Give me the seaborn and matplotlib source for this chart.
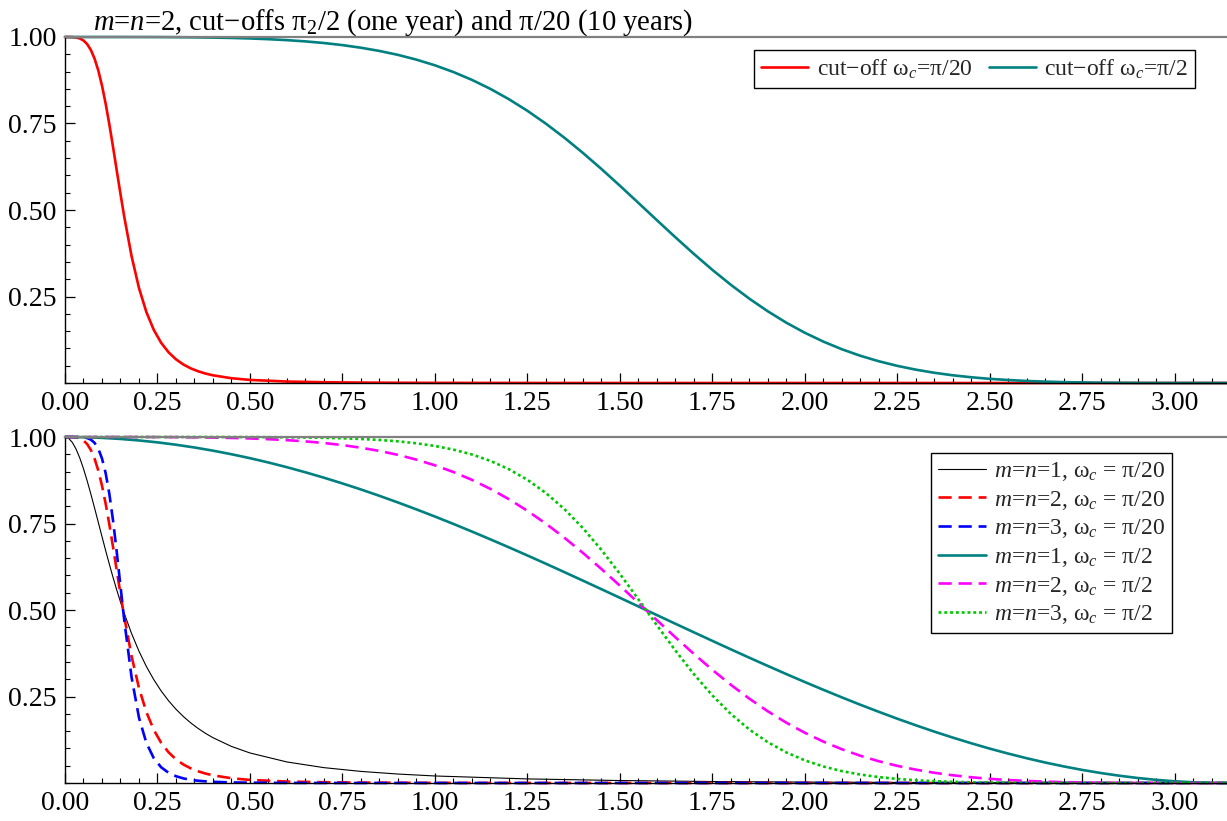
import numpy as np
import pandas as pd
import matplotlib
matplotlib.use("Agg")
import matplotlib.pyplot as plt
from matplotlib.ticker import MultipleLocator, FixedLocator
import seaborn as sns

# ---------------- data ----------------
# curves with cut-off pi/20
x_lo = [0.00, 0.01, 0.02, 0.03, 0.04, 0.05, 0.06, 0.07, 0.08, 0.09, 0.10, 0.11,
        0.12, 0.13, 0.14, 0.15, 0.16, 0.18, 0.20, 0.22, 0.24, 0.26, 0.28, 0.30,
        0.32, 0.34, 0.36, 0.38, 0.40, 0.45, 0.50, 0.60, 0.70, 0.80, 0.90, 1.00,
        1.25, 1.50, 1.75, 2.00, 2.50, 3.00, 3.1416]
g1_lo = [1.0000, 0.9960, 0.9841, 0.9649, 0.9393, 0.9083, 0.8731, 0.8348, 0.7945,
         0.7534, 0.7121, 0.6714, 0.6319, 0.5938, 0.5575, 0.5231, 0.4908, 0.4320,
         0.3809, 0.3368, 0.2988, 0.2660, 0.2377, 0.2133, 0.1921, 0.1737, 0.1576,
         0.1434, 0.1310, 0.1057, 0.0868, 0.0608, 0.0444, 0.0335, 0.0259, 0.0203,
         0.0118, 0.0071, 0.0043, 0.0026, 0.0007, 0.0000, 0.0000]
g2_lo = [1.0000, 1.0000, 0.9997, 0.9987, 0.9958, 0.9899, 0.9793, 0.9623, 0.9373,
         0.9032, 0.8595, 0.8068, 0.7466, 0.6812, 0.6135, 0.5462, 0.4815, 0.3665,
         0.2746, 0.2050, 0.1536, 0.1161, 0.0887, 0.0685, 0.0535, 0.0423, 0.0338,
         0.0273, 0.0222, 0.0138, 0.0089, 0.0042, 0.0022, 0.0012, 0.0007, 0.0004,
         0.0001, 0.0000, 0.0000, 0.0000, 0.0000, 0.0000, 0.0000]
g3_lo = [1.0000, 1.0000, 1.0000, 1.0000, 0.9997, 0.9990, 0.9969, 0.9923, 0.9830,
         0.9661, 0.9380, 0.8951, 0.8349, 0.7575, 0.6667, 0.5690, 0.4723, 0.3055,
         0.1889, 0.1158, 0.0718, 0.0454, 0.0295, 0.0196, 0.0133, 0.0092, 0.0065,
         0.0047, 0.0034, 0.0017, 0.0009, 0.0003, 0.0001, 0.0000, 0.0000, 0.0000,
         0.0000, 0.0000, 0.0000, 0.0000, 0.0000, 0.0000, 0.0000]

# curves with cut-off pi/2
x_hi = [0.00, 0.05, 0.10, 0.15, 0.20, 0.25, 0.30, 0.35, 0.40, 0.45, 0.50, 0.55,
        0.60, 0.65, 0.70, 0.75, 0.80, 0.85, 0.90, 0.95, 1.00, 1.05, 1.10, 1.15,
        1.20, 1.25, 1.30, 1.35, 1.40, 1.45, 1.50, 1.55, 1.60, 1.65, 1.70, 1.75,
        1.80, 1.85, 1.90, 1.95, 2.00, 2.05, 2.10, 2.15, 2.20, 2.25, 2.30, 2.35,
        2.40, 2.45, 2.50, 2.55, 2.60, 2.65, 2.70, 2.75, 2.80, 2.85, 2.90, 2.95,
        3.00, 3.05, 3.10, 3.1416]
g1_hi = [1.0000, 0.9994, 0.9975, 0.9944, 0.9900, 0.9845, 0.9777, 0.9697, 0.9605,
         0.9502, 0.9388, 0.9263, 0.9127, 0.8980, 0.8824, 0.8658, 0.8484, 0.8300,
         0.8108, 0.7908, 0.7702, 0.7488, 0.7268, 0.7042, 0.6812, 0.6577, 0.6338,
         0.6095, 0.5850, 0.5603, 0.5354, 0.5104, 0.4854, 0.4604, 0.4356, 0.4109,
         0.3864, 0.3622, 0.3384, 0.3149, 0.2919, 0.2695, 0.2476, 0.2263, 0.2058,
         0.1859, 0.1669, 0.1486, 0.1313, 0.1149, 0.0994, 0.0850, 0.0716, 0.0592,
         0.0480, 0.0378, 0.0289, 0.0211, 0.0145, 0.0091, 0.0050, 0.0021, 0.0004,
         0.0000]
g2_hi = [1.0000, 1.0000, 1.0000, 1.0000, 0.9999, 0.9998, 0.9995, 0.9990, 0.9983,
         0.9973, 0.9958, 0.9937, 0.9909, 0.9873, 0.9826, 0.9766, 0.9690, 0.9597,
         0.9484, 0.9346, 0.9182, 0.8988, 0.8762, 0.8501, 0.8203, 0.7868, 0.7496,
         0.7090, 0.6652, 0.6188, 0.5704, 0.5208, 0.4708, 0.4214, 0.3733, 0.3272,
         0.2840, 0.2439, 0.2073, 0.1744, 0.1453, 0.1198, 0.0977, 0.0788, 0.0629,
         0.0496, 0.0386, 0.0296, 0.0223, 0.0166, 0.0120, 0.0086, 0.0059, 0.0040,
         0.0025, 0.0016, 0.0009, 0.0005, 0.0002, 0.0001, 0.0000, 0.0000, 0.0000,
         0.0000]
g3_hi = [1.0000, 1.0000, 1.0000, 1.0000, 1.0000, 1.0000, 1.0000, 1.0000, 0.9999,
         0.9999, 0.9997, 0.9995, 0.9991, 0.9985, 0.9976, 0.9963, 0.9943, 0.9915,
         0.9875, 0.9818, 0.9741, 0.9636, 0.9496, 0.9310, 0.9070, 0.8764, 0.8382,
         0.7918, 0.7369, 0.6740, 0.6047, 0.5312, 0.4563, 0.3833, 0.3149, 0.2533,
         0.1998, 0.1548, 0.1180, 0.0885, 0.0655, 0.0478, 0.0344, 0.0244, 0.0171,
         0.0118, 0.0080, 0.0053, 0.0034, 0.0022, 0.0013, 0.0008, 0.0005, 0.0003,
         0.0001, 0.0001, 0.0000, 0.0000, 0.0000, 0.0000, 0.0000, 0.0000, 0.0000,
         0.0000]

x_tick_labels = ["0.00", "0.25", "0.50", "0.75", "1.00", "1.25", "1.50", "1.75",
                 "2.00", "2.25", "2.50", "2.75", "3.00"]
y_tick_labels = ["0.25", "0.50", "0.75", "1.00"]

title_text = r"$m$=$n$=2, cut−offs π$_2$/2 (one year) and π/20 (10 years)"
top_labels = [r"cut−off ω$_c$=π/20", r"cut−off ω$_c$=π/2"]
bottom_labels = [r"$m$=$n$=1, ω$_c$ = π/20", r"$m$=$n$=2, ω$_c$ = π/20",
                 r"$m$=$n$=3, ω$_c$ = π/20", r"$m$=$n$=1, ω$_c$ = π/2",
                 r"$m$=$n$=2, ω$_c$ = π/2", r"$m$=$n$=3, ω$_c$ = π/2"]

# ---------------- style ----------------
sns.set_theme(style="white")
plt.rcParams.update({
    "font.family": ["Liberation Serif", "DejaVu Serif"],
    "mathtext.fontset": "custom",
    "mathtext.rm": "Liberation Serif",
    "mathtext.it": "Liberation Serif:italic",
    "mathtext.bf": "Liberation Serif:bold",
    "axes.unicode_minus": True,
})

RED = "#ff0000"
TEAL = "#008080"
BLUE = "#0000ff"
MAGENTA = "#ff00ff"
GREEN = "#00c800"
LW = 1.9
DASH = (0, (5, 2.6))
DOT = (0, (1.1, 1.1))

W, H = 1227, 821
fig = plt.figure(figsize=(W / 100, H / 100), dpi=100)
left = 65 / W
width = 1162 / W
ax1 = fig.add_axes([left, 1 - 383 / H, width, 346 / H])
ax2 = fig.add_axes([left, 1 - 783 / H, width, 346 / H])


def style_axes(ax):
    ax.set_xlim(0, np.pi)
    ax.set_ylim(0, 1)
    ax.set_facecolor("white")
    for s in ["left", "bottom"]:
        ax.spines[s].set_visible(True)
        ax.spines[s].set_color("black")
        ax.spines[s].set_linewidth(1.0)
    ax.spines["right"].set_visible(False)
    ax.spines["top"].set_visible(True)
    ax.spines["top"].set_color("#808080")
    ax.spines["top"].set_linewidth(1.6)
    xt = [float(v) for v in x_tick_labels]
    ax.xaxis.set_major_locator(FixedLocator(xt))
    ax.set_xticklabels(x_tick_labels)
    ax.xaxis.set_minor_locator(MultipleLocator(0.05))
    yt = [float(v) for v in y_tick_labels]
    ax.yaxis.set_major_locator(FixedLocator(yt))
    ax.set_yticklabels(y_tick_labels)
    ax.yaxis.set_minor_locator(MultipleLocator(0.05))
    ax.tick_params(axis="both", which="both", direction="in", color="black",
                   bottom=True, left=True, top=False, right=False)
    ax.tick_params(axis="both", which="major", length=7, width=0.9,
                   labelsize=20, labelcolor="black")
    ax.tick_params(axis="both", which="minor", length=3.5, width=0.8)
    ax.tick_params(axis="x", which="major", pad=6)
    ax.tick_params(axis="y", which="major", pad=6)
    ax.set_xlabel("")
    ax.set_ylabel("")
    ax.grid(False)


# ---------------- top panel ----------------
sns.lineplot(x=x_lo, y=g2_lo, ax=ax1, color=RED, linewidth=LW,
             label=top_labels[0], clip_on=False, sort=False, estimator=None)
sns.lineplot(x=x_hi, y=g2_hi, ax=ax1, color=TEAL, linewidth=LW,
             label=top_labels[1], clip_on=False, sort=False, estimator=None)
style_axes(ax1)
leg1 = ax1.legend(loc="upper right", bbox_to_anchor=(0.9725, 0.962), ncol=2,
                  fontsize=17, frameon=True, fancybox=False, edgecolor="black",
                  framealpha=1, borderaxespad=0, handlelength=2.0,
                  handletextpad=0.35, columnspacing=0.7, borderpad=0.3)
leg1.get_frame().set_linewidth(1.0)
ax1.text(28 / 1162, 1 + 7 / 346, title_text, transform=ax1.transAxes,
         fontsize=20.6, ha="left", va="baseline", color="black")

# ---------------- bottom panel ----------------
sns.lineplot(x=x_lo, y=g1_lo, ax=ax2, color="black", linewidth=0.8,
             label=bottom_labels[0], clip_on=False, sort=False, estimator=None)
sns.lineplot(x=x_lo, y=g2_lo, ax=ax2, color=RED, linewidth=LW, linestyle=DASH,
             label=bottom_labels[1], clip_on=False, sort=False, estimator=None)
sns.lineplot(x=x_lo, y=g3_lo, ax=ax2, color=BLUE, linewidth=LW, linestyle=DASH,
             label=bottom_labels[2], clip_on=False, sort=False, estimator=None)
sns.lineplot(x=x_hi, y=g1_hi, ax=ax2, color=TEAL, linewidth=LW,
             label=bottom_labels[3], clip_on=False, sort=False, estimator=None)
sns.lineplot(x=x_hi, y=g2_hi, ax=ax2, color=MAGENTA, linewidth=LW,
             linestyle=DASH, label=bottom_labels[4], clip_on=False,
             sort=False, estimator=None)
sns.lineplot(x=x_hi, y=g3_hi, ax=ax2, color=GREEN, linewidth=LW,
             linestyle=DOT, label=bottom_labels[5], clip_on=False,
             sort=False, estimator=None)
style_axes(ax2)
leg2 = ax2.legend(loc="upper right", bbox_to_anchor=(0.9527, 0.954), ncol=1,
                  fontsize=17, frameon=True, fancybox=False, edgecolor="black",
                  framealpha=1, borderaxespad=0, handlelength=2.0,
                  handletextpad=0.35, labelspacing=0.24, borderpad=0.3)
leg2.get_frame().set_linewidth(1.0)

fig.savefig("out.png", dpi=100)
